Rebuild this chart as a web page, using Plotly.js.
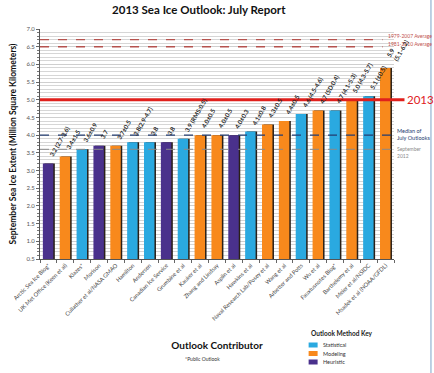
<!DOCTYPE html>
<html>
<head>
<meta charset="utf-8">
<script src="https://cdn.plot.ly/plotly-3.0.1.min.js"></script>
<style>html,body{margin:0;padding:0;background:#fff;}#chart{width:434px;height:373px;}</style>
</head>
<body>
<div id="chart"></div>
<script>
// ---- data ----
var contributors = ["Arctic Sea Ice Blog*", "UK Met Office (Keen et al)", "Klazes*", "Morison",
  "Cullather et al/NASA GMAO", "Hamilton", "Andersen", "Canadian Ice Service", "Grumbine et al",
  "Kauker et al", "Zhang and Lindsay", "Asplin et al", "Hawkins et al", "Naval Research Lab/Posey et al",
  "Wang et al", "Arbetter and Potts", "Wu et al", "Fauxtusnotes Blog*", "Barthelemy et al",
  "Meier et al/NSIDC", "Msadek et al (NOAA/GFDL)"];
var extents = [3.2, 3.4, 3.6, 3.7, 3.7, 3.8, 3.8, 3.8, 3.9, 4.0, 4.0, 4.0, 4.1, 4.3, 4.4, 4.6, 4.7, 4.7, 5.0, 5.1, 5.9];
var methods = ["Heuristic", "Modeling", "Statistical", "Heuristic", "Modeling", "Statistical", "Statistical",
  "Heuristic", "Statistical", "Modeling", "Modeling", "Heuristic", "Statistical", "Modeling", "Modeling",
  "Statistical", "Modeling", "Statistical", "Modeling", "Statistical", "Modeling"];
var valueLabels = ["3.2 (2.7-3.6)", "3.4±1.5", "3.6±0.9", "3.7", "3.7±0.5", "3.8(2.9-4.7)", "3.8", "3.8",
  "3.9 (RMS:0.5)", "4.0±0.5", "4.0±0.5", "4.0±0.3", "4.1±0.8", "4.3±0.5", "4.4±0.5", "4.6 (4.5-4.6)",
  "4.7 (SD:0.4)", "4.7 (4.1-5.3)", "5.0 (4.3-5.7)", "5.1 (±0.5)", "5.9<br>(5.1-6.2)"];
var methodKey = ["Statistical", "Modeling", "Heuristic"];
var refNames = ["1979-2007 Average", "1981-2010 Average", "2013", "Median of July Outlooks", "September 2012"];
var refValues = [6.7, 6.5, 5.0, 4.0, 3.6];

// ---- styles ----
var methodColors = {Statistical: "#2aa9e0", Modeling: "#f8891c", Heuristic: "#4a318c"};
var FONT = "Lato, 'Open Sans', sans-serif";
var L = 40, R = 394.5, T = 29, B = 259, W = 434, H = 373;
function px(x) { return (x - L) / (R - L); }
function py(y) { return (B - y) / (B - T); }

var barColors = methods.map(function (m) { return methodColors[m]; });

var shadow = {
  type: "bar", x: contributors, y: extents, width: 0.62, offset: -0.24,
  marker: {color: "#2a2018", line: {width: 0}}, hoverinfo: "skip", showlegend: false
};
var bars = {
  type: "bar", x: contributors, y: extents, width: 0.62, offset: -0.33,
  marker: {color: barColors, line: {width: 0}}, showlegend: false
};

var shapes = [];
var annotations = [];

// reference lines
var refStyles = [
  {color: "#b5524e", width: 1.4, dash: "dash", x1: px(383)},
  {color: "#b5524e", width: 1.4, dash: "dash", x1: px(383)},
  {color: "#e0201c", width: 3, dash: "solid", x1: px(405)},
  {color: "#233d70", width: 1.4, dash: "dash", x1: px(393)},
  {color: "#8a8a8a", width: 1, dash: "dash", x1: px(393)}
];
refValues.forEach(function (v, i) {
  var s = refStyles[i];
  shapes.push({type: "line", xref: "paper", yref: "y", x0: 0, x1: s.x1, y0: v, y1: v,
    line: {color: s.color, width: s.width, dash: s.dash}, layer: "above"});
});
annotations.push({xref: "paper", yref: "y", x: px(386), y: refValues[0], yshift: 4, xanchor: "left", yanchor: "middle",
  text: refNames[0], showarrow: false, font: {family: FONT, size: 5, color: "#c0504d"}});
annotations.push({xref: "paper", yref: "y", x: px(386), y: refValues[1], yshift: 3, xanchor: "left", yanchor: "middle",
  text: refNames[1], showarrow: false, font: {family: FONT, size: 5, color: "#c0504d"}});
annotations.push({xref: "paper", yref: "y", x: px(406), y: refValues[2], yshift: 0, xanchor: "left", yanchor: "middle",
  text: refNames[2], showarrow: false, font: {family: FONT, size: 11.5, color: "#e0201c"}});
annotations.push({xref: "paper", yref: "y", x: px(396), y: refValues[3], yshift: 1, xanchor: "left", yanchor: "middle",
  text: "Median of<br>July Outlooks", showarrow: false, align: "left",
  font: {family: FONT, size: 5.5, color: "#233d70"}});
annotations.push({xref: "paper", yref: "y", x: px(396), y: refValues[4], yshift: -3, xanchor: "left", yanchor: "middle",
  text: "September<br>2012", showarrow: false, align: "left",
  font: {family: FONT, size: 5, color: "#8a8a8a"}});

// value labels above bars
contributors.forEach(function (c, i) {
  annotations.push({xref: "x", yref: "y", x: c, y: extents[i], xshift: -3, yshift: 3,
    xanchor: "left", yanchor: "bottom", textangle: -60, text: valueLabels[i], showarrow: false,
    align: "left", font: {family: FONT, size: 6.2, color: "#1e1e1e", weight: "bold"}});
});

// method key
annotations.push({xref: "paper", yref: "paper", x: px(309), y: py(333), xanchor: "left", yanchor: "middle",
  text: "<b>Outlook Method Key</b>", showarrow: false, font: {family: FONT, size: 6.5, color: "#222"}});
var keyY = [345, 353.5, 362];
methodKey.forEach(function (m, i) {
  shapes.push({type: "rect", xref: "paper", yref: "paper", x0: px(309), x1: px(318),
    y0: py(keyY[i] + 2.5), y1: py(keyY[i] - 2.5), fillcolor: methodColors[m], line: {width: 0}});
  annotations.push({xref: "paper", yref: "paper", x: px(321), y: py(keyY[i]), xanchor: "left", yanchor: "middle",
    text: m, showarrow: false, font: {family: FONT, size: 5.5, color: "#333"}});
});
annotations.push({xref: "paper", yref: "paper", x: px(203), y: py(359), xanchor: "center", yanchor: "middle",
  text: "*Public Outlook", showarrow: false, font: {family: FONT, size: 5, color: "#333"}});

// right border
shapes.push({type: "line", xref: "paper", yref: "paper", x0: px(431.5), x1: px(431.5), y0: py(H), y1: py(0),
  line: {color: "#a9c3db", width: 1.5}});

var layout = {
  width: W, height: H,
  margin: {l: L, r: W - R, t: T, b: H - B, pad: 0},
  paper_bgcolor: "#fff", plot_bgcolor: "#fff",
  barmode: "overlay", showlegend: false,
  font: {family: FONT, color: "#333"},
  title: {text: "<b>2013 Sea Ice Outlook: July Report</b>", x: 0.458, xanchor: "center", y: 0.972, yanchor: "middle",
    font: {family: FONT, size: 11.5, color: "#111"}},
  xaxis: {
    type: "category", range: [-0.5, 20.5], tickangle: -45, tickson: "boundaries",
    ticks: "outside", ticklen: 3, tickcolor: "#666", showline: true, linecolor: "#555", linewidth: 1,
    showgrid: false, tickfont: {family: FONT, size: 5.7, color: "#444"}, automargin: false,
    title: {text: "<b>Outlook Contributor</b>", standoff: 21, font: {family: FONT, size: 10, color: "#111"}}
  },
  yaxis: {
    range: [0.5, 7.0], dtick: 0.5, tick0: 0.5, tickformat: ".1f", ticks: "outside", ticklen: 3, tickcolor: "#666",
    showline: true, linecolor: "#555", linewidth: 1, showgrid: true, gridcolor: "#cfcfcf", gridwidth: 1,
    zeroline: false, tickfont: {family: FONT, size: 6, color: "#555"}, automargin: false,
    minor: {dtick: 0.1, showgrid: true, gridcolor: "#d6d6d6", gridwidth: 1, ticks: "outside", ticklen: 2, tickcolor: "#777"},
    title: {text: "<b>September Sea Ice Extent (Million Square Kilometers)</b>", standoff: 8,
      font: {family: FONT, size: 8.5, color: "#111"}}
  },
  shapes: shapes,
  annotations: annotations
};

Plotly.newPlot("chart", [shadow, bars], layout, {displayModeBar: false, staticPlot: true});
</script>
</body>
</html>
